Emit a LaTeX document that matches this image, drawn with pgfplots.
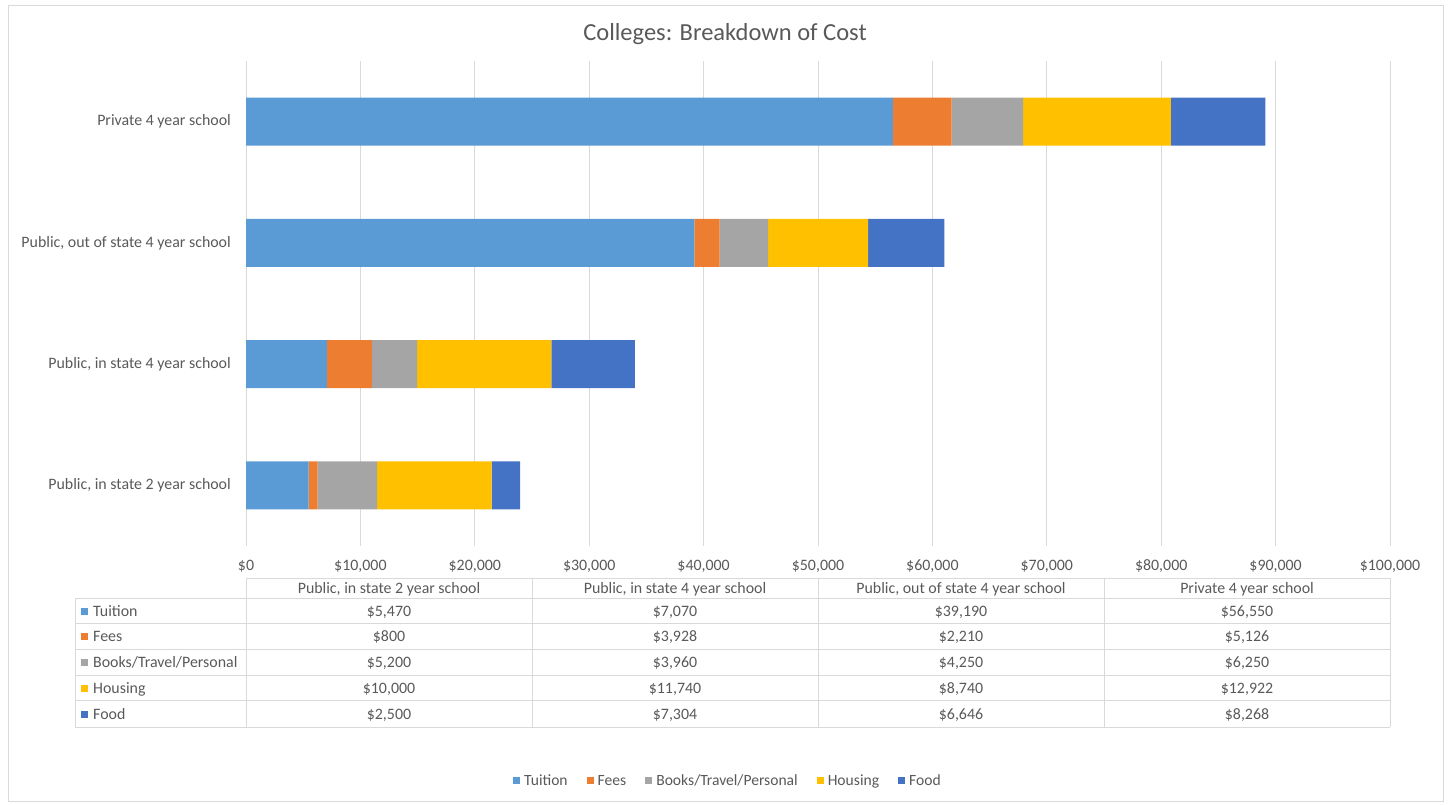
\documentclass[border=0pt]{standalone}
\usepackage{fontspec}
\setmainfont{Carlito}
\usepackage{pgfplots}
\pgfplotsset{compat=1.18}
\definecolor{cTui}{HTML}{5B9BD5}
\definecolor{cFee}{HTML}{ED7D31}
\definecolor{cBoo}{HTML}{A5A5A5}
\definecolor{cHou}{HTML}{FFC000}
\definecolor{cFoo}{HTML}{4472C4}
\definecolor{txt}{HTML}{595959}
\definecolor{grd}{HTML}{D9D9D9}
\begin{document}
\fontsize{15.9}{18}\selectfont
\begin{tikzpicture}[x=1pt,y=1pt]
\path[use as bounding box] (0,0) rectangle (1448,804);
\begin{axis}[
  at={(246pt,258pt)}, anchor=south west,
  scale only axis, width=1144pt, height=485pt,
  xbar stacked, bar width=48pt,
  xmin=0, xmax=100000, ymin=-0.5, ymax=3.5,
  xtick={0,10000,...,100000},
  xticklabels={{\$0},{\$10,000},{\$20,000},{\$30,000},{\$40,000},{\$50,000},{\$60,000},{\$70,000},{\$80,000},{\$90,000},{\$100,000}},
  ytick={0,1,2,3},
  yticklabels={{Public, in state 2 year school},{Public, in state 4 year school},{Public, out of state 4 year school},{Private 4 year school}},
  scaled x ticks=false,
  xmajorgrids, major grid style={grd, line width=0.8pt},
  axis line style={draw=none}, tick style={draw=none},
  ticklabel style={font=\fontsize{15.9}{18}\selectfont, text=txt},
  yticklabel style={inner sep=0pt, xshift=-15pt},
  xticklabel style={anchor=base, inner sep=0pt, yshift=-24pt},
  every axis plot post/.append style={draw=none,
    legend image code/.code={\fill[##1,draw=none] (0pt,-3.5pt) rectangle (7pt,3.5pt);}},
  legend columns=5,
  legend style={at={(0.4213,-0.4825)}, anchor=center, draw=none, fill=none,
    font=\fontsize{15.6}{18}\selectfont, text=txt,
    /tikz/every odd column/.append style={column sep=2pt},
    /tikz/every even column/.append style={column sep=17pt}},
]
\addplot[fill=cTui] coordinates {(5470,0) (7070,1) (39190,2) (56550,3)};
\addlegendentry{Tuition\strut}
\addplot[fill=cFee] coordinates {(800,0) (3928,1) (2210,2) (5126,3)};
\addlegendentry{Fees\strut}
\addplot[fill=cBoo] coordinates {(5200,0) (3960,1) (4250,2) (6250,3)};
\addlegendentry{Books/Travel/Personal\strut}
\addplot[fill=cHou] coordinates {(10000,0) (11740,1) (8740,2) (12922,3)};
\addlegendentry{Housing\strut}
\addplot[fill=cFoo] coordinates {(2500,0) (7304,1) (6646,2) (8268,3)};
\addlegendentry{Food\strut}
\end{axis}
\begin{scope}[y=-1pt, yshift=804pt]
  % frame
  \draw[grd, line width=0.8pt] (8,5) rectangle (1443,801);
  % title
  \node[anchor=base, text=txt, font=\fontsize{24.5}{28}\selectfont] at (725,41) {Colleges: Breakdown of Cost};
  % table lines
  \begin{scope}[grd, line width=0.8pt]
    \draw (246,578) -- (1390,578);
    \foreach \yy in {598,623,649,675,700,727} \draw (75,\yy) -- (1390,\yy);
    \draw (75,598) -- (75,727);
    \foreach \xx in {246,532,818,1104,1390} \draw (\xx,578) -- (\xx,727);
  \end{scope}
  \begin{scope}[text=txt, inner sep=0pt]
    \node[anchor=base] at (389,593.5) {Public, in state 2 year school};
    \node[anchor=base] at (675,593.5) {Public, in state 4 year school};
    \node[anchor=base] at (961,593.5) {Public, out of state 4 year school};
    \node[anchor=base] at (1247,593.5) {Private 4 year school};
    % row labels
    \fill[cTui] (81,607.5) rectangle (88,614.5);
    \fill[cFee] (81,632.5) rectangle (88,639.5);
    \fill[cBoo] (81,658.5) rectangle (88,665.5);
    \fill[cHou] (81,684.5) rectangle (88,691.5);
    \fill[cFoo] (81,710.5) rectangle (88,717.5);
    \node[anchor=base west] at (93,616) {Tuition};
    \node[anchor=base west] at (93,641) {Fees};
    \node[anchor=base west] at (93,667) {Books/Travel/Personal};
    \node[anchor=base west] at (93,693) {Housing};
    \node[anchor=base west] at (93,719) {Food};
    % values
    \node[anchor=base] at (389,616) {\$5,470};
    \node[anchor=base] at (675,616) {\$7,070};
    \node[anchor=base] at (961,616) {\$39,190};
    \node[anchor=base] at (1247,616) {\$56,550};
    \node[anchor=base] at (389,641) {\$800};
    \node[anchor=base] at (675,641) {\$3,928};
    \node[anchor=base] at (961,641) {\$2,210};
    \node[anchor=base] at (1247,641) {\$5,126};
    \node[anchor=base] at (389,667) {\$5,200};
    \node[anchor=base] at (675,667) {\$3,960};
    \node[anchor=base] at (961,667) {\$4,250};
    \node[anchor=base] at (1247,667) {\$6,250};
    \node[anchor=base] at (389,693) {\$10,000};
    \node[anchor=base] at (675,693) {\$11,740};
    \node[anchor=base] at (961,693) {\$8,740};
    \node[anchor=base] at (1247,693) {\$12,922};
    \node[anchor=base] at (389,719) {\$2,500};
    \node[anchor=base] at (675,719) {\$7,304};
    \node[anchor=base] at (961,719) {\$6,646};
    \node[anchor=base] at (1247,719) {\$8,268};
  \end{scope}
\end{scope}
\end{tikzpicture}
\end{document}
